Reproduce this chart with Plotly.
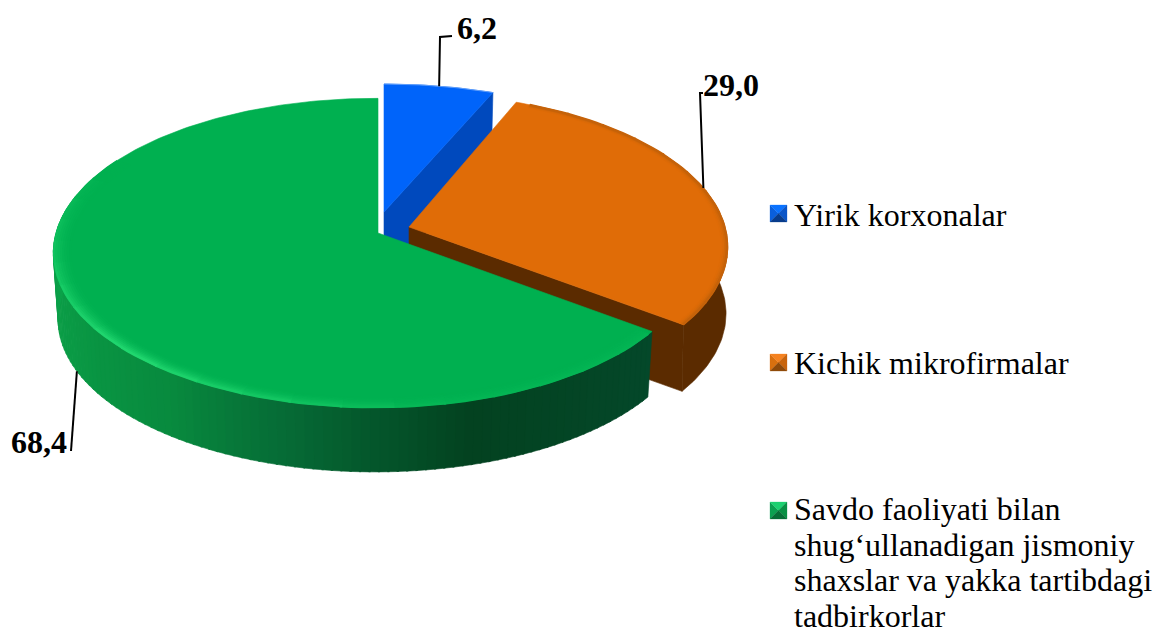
import math
import plotly.graph_objects as go

# ---- data ----
categories = ["Yirik korxonalar", "Kichik mikrofirmalar",
              "Savdo faoliyati bilan shug‘ullanadigan jismoniy shaxslar va yakka tartibdagi tadbirkorlar"]
values = [6.2, 29.0, 68.4]
legend_lines = [["Yirik korxonalar"], ["Kichik mikrofirmalar"],
                ["Savdo faoliyati bilan", "shug‘ullanadigan jismoniy",
                 "shaxslar va yakka tartibdagi", "tadbirkorlar"]]

# ---- styling and layout ----
W, H = 1153, 634
P = 0.129          # perspective
DEPTH = 67
bottom_scale = [0.985, 0.995, 0.985]
apex = [(384, 212), (409, 227), (378, 233)]
centre = [(384, 212), (409, 227), (375, 233)]
radii = [(321, 144.5), (316, 151), (319, 152)]
top_col = ["#0064FA", "#E06C07", "#00B050"]
side_col = ["#0049BD", "#5B2B00", "#034421"]
leader_elbows = [[(440, 37), (452, 36)], [(700, 93), (703, 93)], [(71, 451)]]
label_pos = [(477, 28), (731, 85), (39, 442)]
leader_on_base = [False, False, True]
legend_x, legend_y, legend_lh = 792, [215, 363, 509], 35.7
swatch_y = [213.5, 362.5, 510.5]
swatch = [("#0A5FDC", "#0A72FF", "#0A55C8", "#083C8C"),
          ("#D9700F", "#F58220", "#C8640C", "#8F4A0A"),
          ("#0BA050", "#1CD070", "#089044", "#066E36")]
FONT = "Liberation Serif"

# slice angles: the first shares are percentages, the last slice closes the ring
a0 = 0.0
spans = []
for v in values[:-1]:
    spans.append((a0, a0 + 3.6 * v))
    a0 += 3.6 * v
spans.append((a0, 360.0))


def pt(i, deg, r=1.0, low=False):
    t = math.radians(deg)
    f = 1 / (1 + P * math.cos(t))
    rx, ry = radii[i]
    ax, ay = centre[i]
    s = bottom_scale[i] if low else 1.0
    return (ax + s * r * rx * math.sin(t) * f,
            ay + (DEPTH if low else 0) - s * r * ry * math.cos(t) * f)


def arc(i, a, b, r=1.0, low=False, step=1.0):
    n = max(2, int(abs(b - a) / step))
    return [pt(i, a + (b - a) * k / n, r, low) for k in range(n + 1)]


def hex2(c):
    return [int(c[k:k + 2], 16) for k in (1, 3, 5)]


def mix(c1, c2, t):
    a, b = hex2(c1), hex2(c2)
    return "rgb(%d,%d,%d)" % tuple(round(x + (y - x) * t) for x, y in zip(a, b))


fig = go.Figure()


def poly(points, color, lw=0.6):
    fig.add_trace(go.Scatter(x=[p[0] for p in points] + [points[0][0]],
                             y=[p[1] for p in points] + [points[0][1]],
                             mode="lines", fill="toself", fillcolor=color,
                             line=dict(color=color, width=lw),
                             hoverinfo="skip", showlegend=False))


def stroke(points, color, width):
    fig.add_trace(go.Scatter(x=[p[0] for p in points], y=[p[1] for p in points],
                             mode="lines", line=dict(color=color, width=width),
                             hoverinfo="skip", showlegend=False))


def radial_face(i, deg):
    poly([apex[i], pt(i, deg), pt(i, deg, low=True), (apex[i][0], apex[i][1] + DEPTH)], side_col[i])


def rim(i, a, b, highlight, intensity, layers=7, dr=0.0065, seg=8, power=1.3):
    n = max(1, int((b - a) / seg))
    for k in range(layers - 1, -1, -1):
        r = 1 - (k + 0.4) * dr
        fade = (1 - k / layers) ** power
        for j in range(n):
            d0, d1 = a + (b - a) * j / n, a + (b - a) * (j + 1) / n
            stroke(arc(i, d0, d1 + 0.4, r, step=1.5),
                   mix(top_col[i], highlight, intensity((d0 + d1) / 2) * fade), 2.6)


def wedge(i):
    a, b = spans[i]
    return [apex[i]] + arc(i, a, b)


# blue slice
radial_face(0, spans[0][1])
poly(wedge(0), top_col[0])
stroke(arc(0, spans[0][0], spans[0][1]), "#5E9DFA", 1)

# orange slice
radial_face(1, spans[1][1])
a, b = spans[1]
poly(arc(1, 60, b) + arc(1, b, 60, low=True), side_col[1])
poly(wedge(1), top_col[1])
rim(1, a + 3, b - 0.5, "#BE600A", lambda d: 0.8, layers=4, dr=0.005, power=2.0)

# green slice: side shaded by position around the ring
a, b = spans[2]
stops = [(126.7, "#04482A"), (165, "#034220"), (180, "#04562B"), (195, "#066C36"),
         (215, "#088A3E"), (245, "#0A9A45"), (272, "#0CA24A")]


def side_shade(d):
    for (d0, c0), (d1, c1) in zip(stops, stops[1:]):
        if d <= d1:
            return mix(c0, c1, (d - d0) / (d1 - d0))
    return stops[-1][1]


seg = 1.5
d = a
while d < 285:
    e = min(d + seg, 285)
    poly(arc(2, d, e + 0.3, step=1) + arc(2, e + 0.3, d, low=True, step=1), side_shade((d + e) / 2))
    d = e
poly(wedge(2) + [(apex[2][0], pt(2, 360)[1])], top_col[2])


def green_glow(d):
    if d < 170:
        return 0.12
    if d < 225:
        return 0.12 + 0.88 * (d - 170) / 55
    if d < 295:
        return 1 - (d - 225) / 70
    return 0.0


rim(2, a + 1, 300, "#22D870", green_glow, layers=8, dr=0.007, power=1.8)

# leader lines, starting on the slice rim at the slice's middle angle
for i, (a, b) in enumerate(spans):
    path = [pt(i, (a + b) / 2, low=leader_on_base[i])] + leader_elbows[i]
    stroke(path, "#000000", 2)
    fig.add_annotation(x=label_pos[i][0], y=label_pos[i][1], xref="x", yref="y",
                       text="<b>%s</b>" % f"{values[i]:.1f}".replace(".", ","),
                       showarrow=False, xanchor="center", yanchor="middle",
                       font=dict(family=FONT, size=32, color="#000000"))

# legend
for i, lines in enumerate(legend_lines):
    cx, cy, h = 778.5, swatch_y[i], 8.5
    tl, tr, br, bl = (cx - h, cy - h), (cx + h, cy - h), (cx + h, cy + h), (cx - h, cy + h)
    c = (cx, cy)
    poly([tl, c, bl], swatch[i][0], 0.3)
    poly([tl, tr, c], swatch[i][1], 0.3)
    poly([tr, br, c], swatch[i][2], 0.3)
    poly([bl, br, c], swatch[i][3], 0.3)
    for k, line in enumerate(lines):
        fig.add_annotation(x=legend_x, y=legend_y[i] + k * legend_lh, xref="x", yref="y", text=line,
                           showarrow=False, xanchor="left", yanchor="middle",
                           font=dict(family=FONT, size=32, color="#000000"))

fig.update_layout(width=W, height=H, margin=dict(l=0, r=0, t=0, b=0),
                  paper_bgcolor="#FFFFFF", plot_bgcolor="#FFFFFF", showlegend=False,
                  xaxis=dict(range=[0, W], visible=False, fixedrange=True),
                  yaxis=dict(range=[H, 0], visible=False, fixedrange=True))
fig.write_html("out.html", config={"displayModeBar": False},
               post_script="document.body.style.margin='0';document.body.style.overflow='hidden';")
